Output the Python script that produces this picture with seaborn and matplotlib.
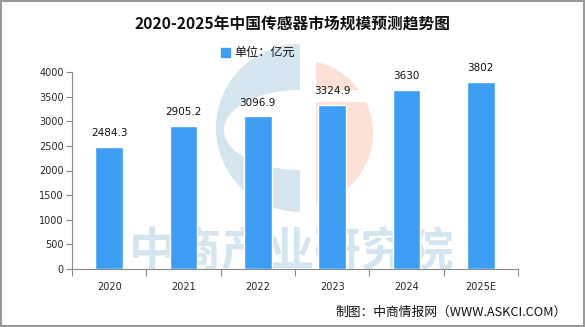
import matplotlib
matplotlib.use("Agg")
import matplotlib.pyplot as plt
from matplotlib.patches import Wedge, Ellipse, Rectangle
import seaborn as sns
import pandas as pd
import numpy as np

years = ["2020", "2021", "2022", "2023", "2024", "2025E"]
values = [2484.3, 2905.2, 3096.9, 3324.9, 3630, 3802]
value_labels = ["2484.3", "2905.2", "3096.9", "3324.9", "3630", "3802"]
yticks = [0, 500, 1000, 1500, 2000, 2500, 3000, 3500, 4000]

sns.set_theme(style="white")
plt.rcParams['font.family'] = ['Noto Sans CJK SC', 'DejaVu Sans']

df = pd.DataFrame({"year": years, "value": values})

W, H = 585, 327
fig = plt.figure(figsize=(W/100, H/100), dpi=100)

# background watermark layer (pixel coordinates)
bg = fig.add_axes([0, 0, 1, 1], zorder=-5)
bg.set_xlim(0, W)
bg.set_ylim(H, 0)
bg.axis("off")
BLUE_WM = "#D5E5EF"
SALMON_WM = "#FBE1D6"
bg.add_patch(Wedge((300, 128), 84, 90, 270, color=BLUE_WM, lw=0))
bg.add_patch(Ellipse((300, 130), 152, 80, color="white", lw=0))
bg.add_patch(Wedge((300, 133), 73, -90, 90, color=SALMON_WM, lw=0))
bg.add_patch(Rectangle((300, 55), 16, 160, color="white", lw=0))
bg.add_patch(Rectangle((300, 90), 80, 12, color="white", lw=0))
bg.text(292, 251, "中商产业研究院", ha='center', va='center', fontsize=33.5,
        color=BLUE_WM, fontweight='bold')

ax = fig.add_axes([72/W, 1-269/H, 446/W, (269-72)/H], zorder=1)
ax.patch.set_alpha(0)

sns.barplot(data=df, x="year", y="value", color="#3E9EF3", width=0.37,
            saturation=1, ax=ax, zorder=3)

ax.set_ylim(0, 4000)
ax.set_xlim(-0.5, len(years)-0.5)
ax.set_yticks(yticks)
ax.set_yticklabels([str(t) for t in yticks], fontsize=7, family='DejaVu Sans')
ax.set_xticks(range(len(years)))
ax.set_xticklabels(years, fontsize=7, family='DejaVu Sans')
ax.tick_params(axis='x', length=0, pad=9)
ax.tick_params(axis='y', length=4, width=0.8, color="#888888", direction='out', left=True, pad=2)
ax.set_xticks(np.arange(-0.5, len(years), 1), minor=True)
ax.tick_params(axis='x', which='minor', length=5, width=0.8, color="#888888", direction='out', bottom=True)
ax.set_xlabel("")
ax.set_ylabel("")
for s in ["top", "right"]:
    ax.spines[s].set_visible(False)
for s in ["left", "bottom"]:
    ax.spines[s].set_color("#888888")
    ax.spines[s].set_linewidth(0.8)

for i, (v, lab) in enumerate(zip(values, value_labels)):
    ax.text(i, v + 180, lab, ha='center', va='bottom', fontsize=7.5,
            family='DejaVu Sans', color="#111111")

fig.text(0.5, 1-25/H, "2020-2025年中国传感器市场规模预测趋势图", ha='center', va='center',
         fontsize=11.3, fontweight='bold', color="#111111")
fig.patches.append(Rectangle((221/W, 1-57/H), 9/W, 9/H,
                   transform=fig.transFigure, color="#3E9EF3", figure=fig))
fig.text(234/W, 1-52/H, "单位：亿元", ha='left', va='center', fontsize=8.7, color="#111111")
fig.text(567/W, 1-312/H, "制图：中商情报网（WWW.ASKCI.COM）", ha='right', va='center',
         fontsize=9.2, color="#111111")

fig.patches.append(Rectangle((0.001, 0.002), 0.997, 0.995,
                   transform=fig.transFigure, fill=False, edgecolor="#999999", linewidth=1.5, figure=fig))

fig.savefig("out.png", dpi=100)
